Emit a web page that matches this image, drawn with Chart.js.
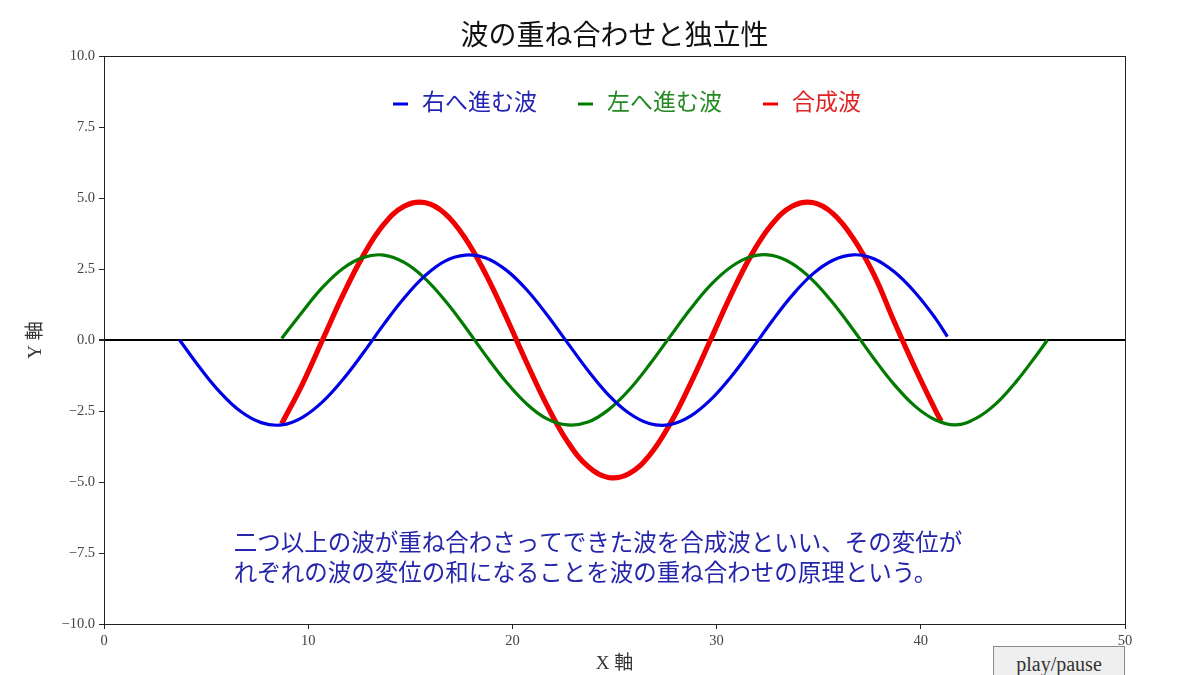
<!DOCTYPE html>
<html lang="ja">
<head>
<meta charset="utf-8">
<title>波の重ね合わせと独立性</title>
<script src="https://cdn.jsdelivr.net/npm/chart.js@4.4.1/dist/chart.umd.min.js"></script>
<style>
    html, body { margin: 0; padding: 0; background: #fff; overflow: hidden; }
    #wrap { position: relative; width: 1200px; height: 675px; }
    #playBtn {
        position: absolute; left: 993px; top: 646px; width: 132px; height: 36px;
        background: #efefef; border: 1px solid #8a8a8a; box-sizing: border-box;
        font-family: "Liberation Serif", serif; font-size: 20px; color: #333;
        text-align: center; line-height: 34px;
    }
</style>
</head>
<body>
<div id="wrap">
    <canvas id="waveChart" width="1200" height="675"></canvas>
    <div id="playBtn">play/pause</div>
</div>
<script>
// values
const chartTitle = "波の重ね合わせと独立性";
const seriesNames = ["右へ進む波", "左へ進む波", "合成波"];
const lineColors = ["#0000e6", "#007a00", "#f00000"];
const textColors = ["#2424b4", "#248a24", "#e02424"];

// right-moving wave (blue)
const rightX = [3.7, 4.7, 5.7, 6.7, 7.7, 8.7, 9.7, 10.7, 11.7, 12.7, 13.7, 14.7, 15.7, 16.7, 17.7,
    18.7, 19.7, 20.7, 21.7, 22.7, 23.7, 24.7, 25.7, 26.7, 27.7, 28.7, 29.7, 30.7, 31.7, 32.7,
    33.7, 34.7, 35.7, 36.7, 37.7, 38.7, 39.7, 40.7, 41.3];
const rightY = [0, -0.98, -1.85, -2.52, -2.91, -2.99, -2.73, -2.18, -1.39, -0.45, 0.55, 1.48, 2.25, 2.78, 2.99,
    2.89, 2.46, 1.77, 0.88, -0.10, -1.07, -1.93, -2.57, -2.94, -2.98, -2.69, -2.11, -1.30, -0.35, 0.65,
    1.57, 2.32, 2.81, 3.00, 2.86, 2.40, 1.69, 0.78, 0.12];

// left-moving wave (green)
const leftX = [8.7, 9.7, 10.7, 11.7, 12.7, 13.7, 14.7, 15.7, 16.7, 17.7, 18.7, 19.7, 20.7, 21.7, 22.7,
    23.7, 24.7, 25.7, 26.7, 27.7, 28.7, 29.7, 30.7, 31.7, 32.7, 33.7, 34.7, 35.7, 36.7, 37.7,
    38.7, 39.7, 40.7, 41.7, 42.7, 43.7, 44.7, 45.7, 46.2];
const leftY = [0.05, 0.98, 1.85, 2.52, 2.91, 2.99, 2.73, 2.18, 1.39, 0.45, -0.55, -1.48, -2.25, -2.78, -2.99,
    -2.89, -2.46, -1.77, -0.88, 0.10, 1.07, 1.93, 2.57, 2.94, 2.98, 2.69, 2.11, 1.30, 0.35, -0.65,
    -1.57, -2.32, -2.81, -2.99, -2.76, -2.23, -1.44, -0.50, 0];

// resultant wave (red)
const sumX = [8.7, 9.7, 10.7, 11.7, 12.7, 13.7, 14.7, 15.7, 16.7, 17.7, 18.7, 19.7, 20.7, 21.7, 22.7,
    23.7, 24.7, 25.7, 26.7, 27.7, 28.7, 29.7, 30.7, 31.7, 32.7, 33.7, 34.7, 35.7, 36.7, 37.7,
    38.7, 39.7, 40.7, 41.0];
const sumY = [-2.95, -1.58, 0, 1.58, 2.98, 4.07, 4.71, 4.84, 4.45, 3.57, 2.31, 0.80, -0.80, -2.31, -3.58,
    -4.45, -4.84, -4.71, -4.07, -2.98, -1.57, 0, 1.58, 2.99, 4.07, 4.71, 4.84, 4.45, 3.57, 2.31,
    0.64, -0.96, -2.45, -2.86];

const xTicksStep = 10;
const yTicksStep = 2.5;
const noteLines = [
    "二つ以上の波が重ね合わさってできた波を合成波といい、その変位が",
    "れぞれの波の変位の和になることを波の重ね合わせの原理という。"
];

const cjk = '"Liberation Serif", "Noto Sans CJK JP", serif';

function toPoints(xs, ys) {
    return xs.map(function (x, i) { return { x: x, y: ys[i] }; });
}

// title, spines, legend and the note are drawn on top of the plot
const overlayPlugin = {
    id: "overlay",
    afterDraw: function (chart) {
        const ctx = chart.ctx;
        const a = chart.chartArea;
        ctx.save();

        // title centred over the plot area
        ctx.font = "28px " + cjk;
        ctx.fillStyle = "#111";
        ctx.textAlign = "center";
        ctx.textBaseline = "middle";
        ctx.fillText(chartTitle, (a.left + a.right) / 2, 38);

        // box around plot
        ctx.strokeStyle = "#222";
        ctx.lineWidth = 1;
        ctx.strokeRect(Math.round(a.left) + 0.5, Math.round(a.top) + 0.5,
            Math.round(a.right - a.left), Math.round(a.bottom - a.top));

        // legend inside the plot area
        ctx.font = "23px " + cjk;
        let lx = a.left + 289;
        const ly = a.top + 48;
        chart.data.datasets.forEach(function (ds, i) {
            ctx.strokeStyle = ds.borderColor;
            ctx.lineWidth = 3;
            ctx.beginPath();
            ctx.moveTo(lx, ly);
            ctx.lineTo(lx + 15, ly);
            ctx.stroke();
            ctx.fillStyle = textColors[i];
            ctx.textAlign = "left";
            ctx.fillText(ds.label, lx + 29, ly);
            lx += 29 + ctx.measureText(ds.label).width + 41;
        });

        // explanation text
        const xs = chart.scales.x;
        const ys = chart.scales.y;
        ctx.font = "23.5px " + cjk;
        ctx.fillStyle = "#2626ac";
        ctx.textAlign = "left";
        ctx.fillText(noteLines[0], xs.getPixelForValue(6.35), ys.getPixelForValue(-7.2));
        ctx.fillText(noteLines[1], xs.getPixelForValue(6.35), ys.getPixelForValue(-8.27));

        ctx.restore();
    }
};

const tickFont = { family: '"Liberation Serif", serif', size: 14.5 };

new Chart(document.getElementById("waveChart").getContext("2d"), {
    type: "line",
    data: {
        datasets: [
            { label: seriesNames[0], data: toPoints(rightX, rightY), borderColor: lineColors[0], borderWidth: 3.2 },
            { label: seriesNames[1], data: toPoints(leftX, leftY), borderColor: lineColors[1], borderWidth: 3.2 },
            { label: seriesNames[2], data: toPoints(sumX, sumY), borderColor: lineColors[2], borderWidth: 5.2 }
        ]
    },
    options: {
        responsive: false,
        animation: false,
        elements: {
            point: { radius: 0, hoverRadius: 0 },
            line: { tension: 0.4, fill: false, borderCapStyle: "butt" }
        },
        layout: { padding: { left: 0, right: 75, top: 56, bottom: 0 } },
        plugins: {
            legend: { display: false },
            tooltip: { enabled: false },
            title: { display: false }
        },
        scales: {
            x: {
                type: "linear",
                min: 0,
                max: 50,
                afterFit: function (scale) { scale.height = 51; },
                ticks: { stepSize: xTicksStep, color: "#444", font: tickFont, padding: 3, maxRotation: 0 },
                grid: { drawOnChartArea: false, drawTicks: true, tickLength: 5, tickColor: "#222" },
                border: { display: true, color: "#222", width: 1 },
                title: {
                    display: true, text: "X 軸", color: "#333",
                    font: { family: cjk, size: 19 }, padding: { top: 0, bottom: 0 }
                }
            },
            y: {
                type: "linear",
                min: -10,
                max: 10,
                afterFit: function (scale) { scale.width = 104; },
                ticks: {
                    stepSize: yTicksStep, color: "#444", font: tickFont, padding: 4,
                    callback: function (v) { return v.toFixed(1).replace("-", "\u2212"); }
                },
                grid: {
                    drawOnChartArea: true, drawTicks: true, tickLength: 5, tickColor: "#222",
                    color: function (c) { return c.tick && c.tick.value === 0 ? "#000" : "rgba(0,0,0,0)"; },
                    lineWidth: function (c) { return c.tick && c.tick.value === 0 ? 2 : 1; }
                },
                border: { display: true, color: "#222", width: 1 },
                title: {
                    display: true, text: "Y 軸", color: "#333",
                    font: { family: cjk, size: 19 }, padding: { top: 25, bottom: 0 }
                }
            }
        }
    },
    plugins: [overlayPlugin]
});
</script>
</body>
</html>
